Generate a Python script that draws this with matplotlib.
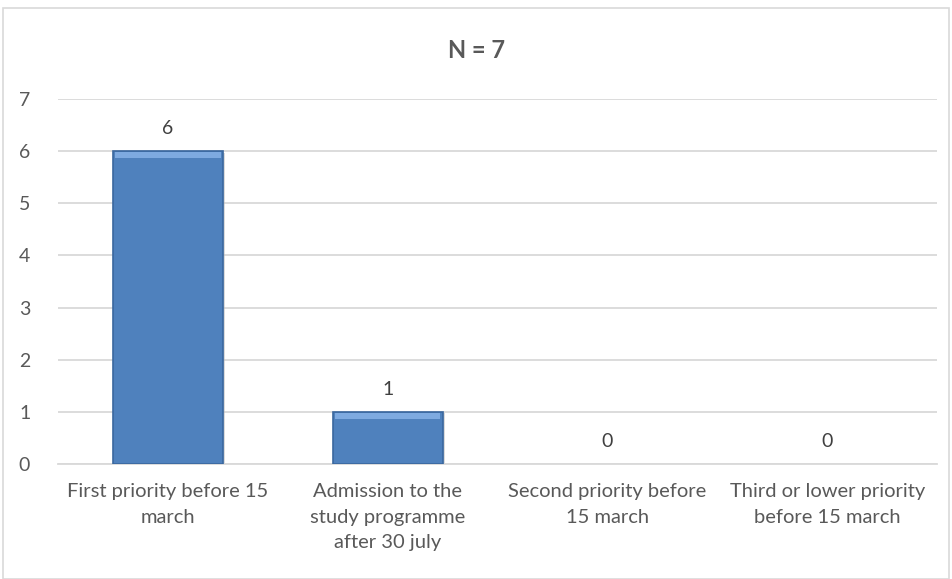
#!/usr/bin/env python3

import numpy as np
import matplotlib
matplotlib.use("Agg")
import matplotlib.pyplot as plt
from matplotlib.patches import Rectangle

categories = [
    "First priority before 15\nmarch",
    "Admission to the\nstudy programme\nafter 30 july",
    "Second priority before\n15 march",
    "Third or lower priority\nbefore 15 march",
]
counts = [6, 1, 0, 0]
title = "N = 7"

grey = "#595959"
plt.rcParams["font.family"] = ["Lato", "DejaVu Sans"]

fig = plt.figure(figsize=(9.52, 5.79), dpi=100)
ax = fig.add_axes([58 / 952, 115 / 579, 879 / 952, 365 / 579])

x = np.arange(len(counts))
w = 0.5
has = [c > 0 for c in counts]
# soft shadow, bar, lighter top strip to fake the bevel
ax.bar(x + 0.012, counts, w, bottom=-0.03, color="#b8b8b8", alpha=0.5, zorder=2,
       edgecolor="none")
ax.bar(x, counts, w, color="#4f81bd",
       edgecolor=["#3a679e" if h else "none" for h in has], linewidth=1.2, zorder=3)
ax.bar(x, [0.11 if h else 0 for h in has], w * 0.96,
       bottom=[c - 0.13 if h else 0 for c, h in zip(counts, has)],
       color="#7eaae0", linewidth=0, zorder=4)

for xi, c in zip(x, counts):
    ax.text(xi, c + 0.27, str(c), ha="center", va="bottom", fontsize=14, color="#404040")

ax.set_xlim(-0.5, len(counts) - 0.5)
ax.set_ylim(0, 7)
ax.set_yticks(range(8))
ax.set_xticks(x)
ax.set_xticklabels(categories, fontsize=14.5, color=grey, linespacing=1.6)
ax.tick_params(axis="y", length=0, pad=20, labelsize=14, labelcolor=grey)
ax.tick_params(axis="x", length=0, pad=14)
ax.grid(axis="y", color="#d9d9d9", linewidth=1.3, zorder=0)
ax.set_axisbelow(True)
for s in ["top", "right", "left"]:
    ax.spines[s].set_visible(False)
ax.spines["bottom"].set_color("#d9d9d9")
ax.spines["bottom"].set_linewidth(1.3)

fig.text(0.5, 1 - 50 / 579, title, ha="center", va="center",
         fontsize=17, fontweight="bold", color=grey)

fig.patches.append(Rectangle((3 / 952, 0), 946 / 952, 1 - 8 / 579, transform=fig.transFigure,
                             fill=False, edgecolor="#d9d9d9", linewidth=1.2))

fig.savefig("out.png", dpi=100)
